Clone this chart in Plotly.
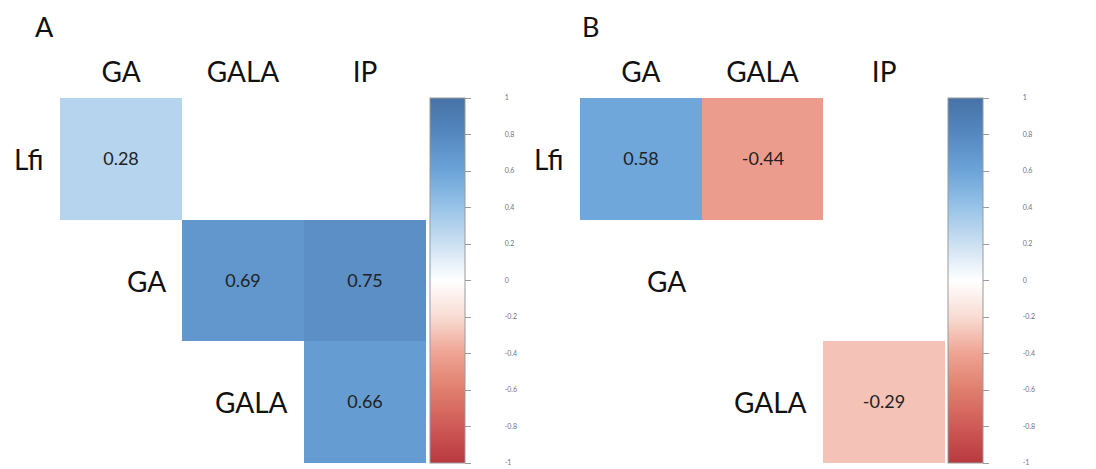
import plotly.graph_objects as go

rows = ["Lfi", "GA", "GALA"]
cols = ["GA", "GALA", "IP"]
corr_A = [[0.28, None, None],
          [None, 0.69, 0.75],
          [None, None, 0.66]]
corr_B = [[0.58, -0.44, None],
          [None, None, None],
          [None, None, -0.29]]
panel_letters = ["A", "B"]
cbar_vals = [1, 0.8, 0.6, 0.4, 0.2, 0, -0.2, -0.4, -0.6, -0.8, -1]
cbar_text = ["1", "0.8", "0.6", "0.4", "0.2", "0", "-0.2", "-0.4", "-0.6", "-0.8", "-1"]

OFF = 8  # page body margin
W, H = 1096 - OFF, 469 - OFF
FONT = "Lato"

colorscale = [
    [0.0, "#B8393F"],
    [0.1, "#CF5A57"],
    [0.2, "#E07E6E"],
    [0.3, "#EFA393"],
    [0.4, "#F8DCD3"],
    [0.5, "#FFFFFF"],
    [0.6, "#CCE0F2"],
    [0.7, "#98C3E8"],
    [0.8, "#6CA4D8"],
    [0.9, "#5588C0"],
    [1.0, "#4672A6"],
]

# target pixel layout (page coordinates)
plot_x = [(60, 426), (580, 945)]
cbar_x = [430, 948]
plot_top, plot_bot = 98, 463

def px(x):
    return (x - OFF) / W

def py(y):
    return (H - (y - OFF)) / H

fig = go.Figure()
pad = "\u00a0" * 18
for k, data in enumerate([corr_A, corr_B]):
    xa = "x" if k == 0 else "x2"
    ya = "y" if k == 0 else "y2"
    text = [[("" if v is None else f"{v:.2f}") for v in r] for r in data]
    fig.add_trace(go.Heatmap(
        z=data, x=cols, y=rows, text=text, texttemplate="%{text}",
        textfont=dict(family=FONT, size=18, color="#222222"),
        colorscale=colorscale, zmin=-1, zmax=1, xgap=0, ygap=0,
        xaxis=xa, yaxis=ya, hoverongaps=False,
        colorbar=dict(
            x=px(cbar_x[k]), xanchor="left", xpad=0, ypad=0,
            y=py((plot_top + plot_bot) / 2), yanchor="middle",
            len=plot_bot - plot_top, lenmode="pixels", thickness=35,
            outlinecolor="#9a9a9a", outlinewidth=1,
            tickvals=cbar_vals, ticktext=[pad + t for t in cbar_text],
            ticks="outside", ticklen=6, tickcolor="#9a9a9a", tickwidth=1,
            tickfont=dict(family=FONT, size=7, color="#707080"),
        ),
    ))

axis_common = dict(showgrid=False, zeroline=False, showline=False)
for k in range(2):
    sfx = "" if k == 0 else "2"
    fig.update_layout(**{
        "xaxis" + sfx: dict(domain=[px(plot_x[k][0]), px(plot_x[k][1])], side="top",
                            type="category", categoryorder="array", categoryarray=cols,
                            anchor="y" + sfx, ticks="outside", ticklen=4,
                            tickcolor="rgba(0,0,0,0)",
                            tickfont=dict(family=FONT, size=28, color="#111111"),
                            range=[-0.5, 2.5], **axis_common),
        "yaxis" + sfx: dict(domain=[py(plot_bot), py(plot_top)], anchor="x" + sfx,
                            type="category", categoryorder="array", categoryarray=rows,
                            autorange="reversed", showticklabels=False, **axis_common),
    })
    # row labels placed left of the first cell of each row (diagonal position)
    for i, r in enumerate(rows):
        fig.add_annotation(x=i - 0.5, y=r, xref="x" + sfx, yref="y" + sfx,
                           text=r, showarrow=False, xanchor="right", xshift=-14,
                           font=dict(family=FONT, size=28, color="#111111"))
    fig.add_annotation(x=px([33, 580][k]), y=1.0, xref="paper", yref="paper",
                       text=panel_letters[k], showarrow=False, xanchor="left",
                       yanchor="top",
                       font=dict(family=FONT, size=27, color="#111111"))

fig.update_layout(width=W, height=H, margin=dict(l=0, r=0, t=0, b=0),
                  paper_bgcolor="white", plot_bgcolor="white", showlegend=False)

fig.write_html("out.html")
